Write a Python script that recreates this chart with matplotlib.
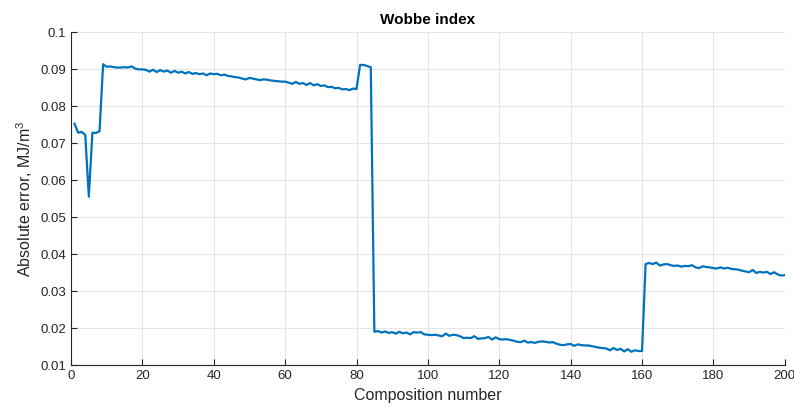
import numpy as np
import matplotlib
matplotlib.use("Agg")
import matplotlib.pyplot as plt
from matplotlib.ticker import FormatStrFormatter, FuncFormatter

plt.rcParams['font.family'] = ['Liberation Sans', 'DejaVu Sans']
plt.rcParams['mathtext.fontset'] = 'custom'
plt.rcParams['mathtext.rm'] = 'Liberation Sans'

# absolute error per composition
seg_start = [0.0752, 0.0728, 0.0730, 0.0722, 0.0555, 0.0728, 0.0727, 0.0732]
seg_high = [0.0913, 0.0906, 0.0907, 0.0905, 0.0904, 0.0904, 0.0905, 0.0904, 0.0907, 0.0901, 0.0899, 0.0899,
            0.0898, 0.0893, 0.0898, 0.0892, 0.0897, 0.0893, 0.0896, 0.0890, 0.0895, 0.0890,
            0.0893, 0.0888, 0.0892, 0.0887, 0.0889, 0.0886, 0.0888, 0.0883, 0.0888, 0.0886,
            0.0887, 0.0883, 0.0885, 0.0881, 0.0880, 0.0878, 0.0877, 0.0874, 0.0872, 0.0876,
            0.0874, 0.0872, 0.0870, 0.0872, 0.0871, 0.0869, 0.0868, 0.0867, 0.0866, 0.0866,
            0.0863, 0.0860, 0.0865, 0.0860, 0.0862, 0.0857, 0.0862, 0.0856, 0.0859, 0.0854,
            0.0856, 0.0851, 0.0852, 0.0848, 0.0849, 0.0845, 0.0846, 0.0843, 0.0847, 0.0846]
seg_peak = [0.0911, 0.0911, 0.0908, 0.0905]
seg_low = [0.0190, 0.0192, 0.0188, 0.0191, 0.0187, 0.0189, 0.0185, 0.0190, 0.0186, 0.0188,
           0.0183, 0.0189, 0.0188, 0.0189, 0.0183,
           0.0182, 0.0181, 0.0182, 0.0180, 0.0178, 0.0185, 0.0179, 0.0182, 0.0181, 0.0178,
           0.0173, 0.0174, 0.0173, 0.0178, 0.0171, 0.0172, 0.0173, 0.0176, 0.0169, 0.0175,
           0.0170, 0.0169, 0.0170, 0.0168, 0.0166, 0.0163, 0.0162, 0.0166, 0.0161, 0.0162,
           0.0160, 0.0163, 0.0164, 0.0163, 0.0161, 0.0162, 0.0158, 0.0155, 0.0154, 0.0156,
           0.0157, 0.0152, 0.0156, 0.0154, 0.0153, 0.0153, 0.0151, 0.0149, 0.0147, 0.0146,
           0.0145, 0.0140, 0.0146, 0.0141, 0.0144, 0.0137, 0.0143, 0.0136, 0.0140, 0.0138, 0.0138]
seg_end = [0.0373, 0.0376, 0.0373, 0.0377, 0.0369, 0.0372, 0.0373, 0.0370, 0.0368, 0.0369,
           0.0366, 0.0368, 0.0367, 0.0370, 0.0364, 0.0362, 0.0367, 0.0365, 0.0364, 0.0362,
           0.0361, 0.0364, 0.0361, 0.0363, 0.0360, 0.0359, 0.0358, 0.0355, 0.0353, 0.0351,
           0.0357, 0.0349, 0.0352, 0.0350, 0.0352, 0.0346, 0.0351, 0.0345, 0.0342, 0.0343]

err = np.array(seg_start + seg_high + seg_peak + seg_low + seg_end)
comp = np.arange(1, len(err) + 1)

fig = plt.figure(figsize=(7.94, 4.13), dpi=100)
ax = fig.add_axes([0.0894, 0.116, 0.899, 0.8065])

ax.plot(comp, err, color='#0072BD', linewidth=1.6)

ax.set_xlim(0, 200)
ax.set_ylim(0.01, 0.1)
ax.set_xticks(np.arange(0, 201, 20))
ax.set_yticks(np.arange(0.01, 0.1001, 0.01))
ax.yaxis.set_major_formatter(FuncFormatter(lambda v, p: '%g' % round(v, 3)))

ax.grid(True, color='#e6e6e6', linewidth=0.8)
ax.set_axisbelow(True)
for s in ['top', 'right']:
    ax.spines[s].set_visible(False)
for s in ['left', 'bottom']:
    ax.spines[s].set_color('#262626')
    ax.spines[s].set_linewidth(0.8)
ax.tick_params(direction='in', length=4, colors='#262626', labelsize=9.5)

ax.set_title('Wobbe index', fontsize=11, fontweight='bold', pad=6)
ax.set_xlabel('Composition number', fontsize=11.5, color='#262626')
ax.set_ylabel('Absolute error, MJ/m$^3$', fontsize=11.5, color='#262626')

fig.savefig('out.png', dpi=100)
